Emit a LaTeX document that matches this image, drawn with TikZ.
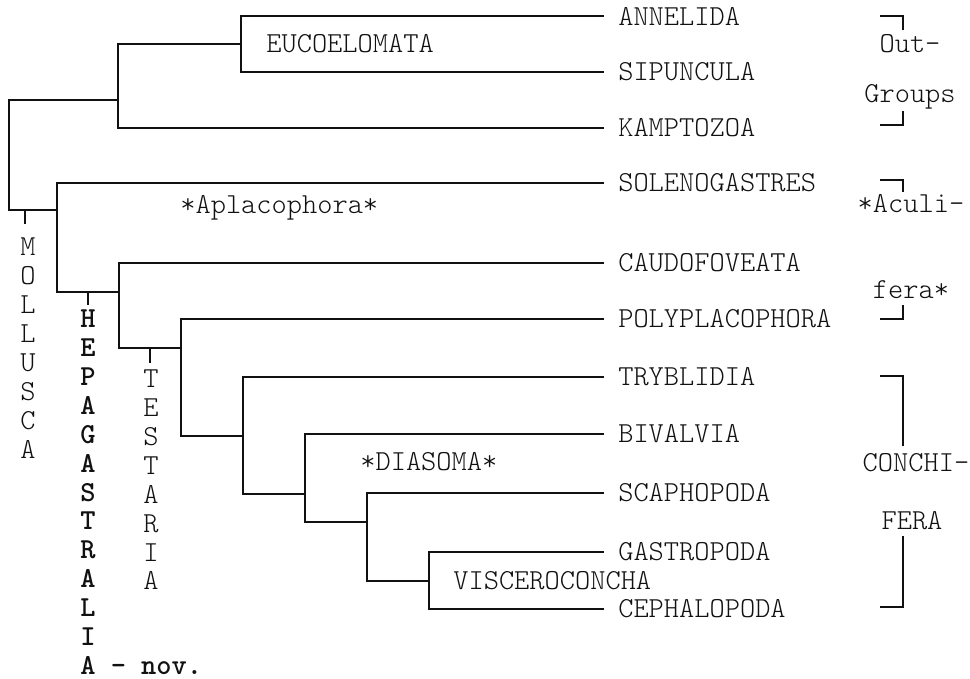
\documentclass[tikz,border=0pt]{standalone}
\usepackage{fontspec}
\usepackage{tikz}
\usetikzlibrary{positioning}
\usepackage{xcolor}
\definecolor{ink}{HTML}{111111}

\tikzset{
  branch/.style={ink, line width=0.9pt, line cap=rect},
  taxon/.style={anchor=west, inner xsep=8.5pt, inner ysep=0pt, ink,
    font=\ttfamily\fontseries{l}\fontsize{16.5}{18}\selectfont},
  cladename/.style={anchor=west, inner sep=0pt, ink,
    font=\ttfamily\fontseries{l}\fontsize{16.5}{18}\selectfont},
  column/.style={anchor=north west, inner sep=0pt, align=left, ink,
    font=\ttfamily\fontseries{l}\fontsize{16.5}{16.5}\selectfont},
  groupname/.style={inner sep=0pt, ink,
    font=\ttfamily\fontseries{l}\fontsize{16.5}{18}\selectfont}
}

\begin{document}
\begin{tikzpicture}[x=0.02cm, y=-0.02cm]
  \useasboundingbox (0,0) rectangle (970,679);

  % terminal taxa
  \node[taxon] (ann) at (603,16)  {ANNELIDA};
  \node[taxon] (sip) at (603,72)  {SIPUNCULA};
  \node[taxon] (kam) at (603,128) {KAMPTOZOA};
  \node[taxon] (sol) at (603,183) {SOLENOGASTRES};
  \node[taxon] (cau) at (603,263) {CAUDOFOVEATA};
  \node[taxon] (pol) at (603,319) {POLYPLACOPHORA};
  \node[taxon] (try) at (603,377) {TRYBLIDIA};
  \node[taxon] (biv) at (603,434) {BIVALVIA};
  \node[taxon] (sca) at (603,493) {SCAPHOPODA};
  \node[taxon] (gas) at (603,552) {GASTROPODA};
  \node[taxon] (cep) at (603,609) {CEPHALOPODA};

  % inner nodes
  \coordinate (eucoel) at (241,44);
  \coordinate (outgrp) at (118,100);
  \coordinate (root)   at (9,210);
  \coordinate (moll)   at (57,210);
  \coordinate (testa)  at (119,292);
  \coordinate (polcon) at (181,348);
  \coordinate (conch)  at (243,436);
  \coordinate (dias)   at (305,494);
  \coordinate (scavis) at (367,522);
  \coordinate (visc)   at (429,581);

  % branches
  \draw[branch] (ann.west) -| (eucoel) |- (sip.west);
  \draw[branch] (eucoel) -| (outgrp) |- (kam.west);
  \draw[branch] (outgrp) -| (root) -- (moll);
  \draw[branch] (sol.west) -| (moll) |- (testa);
  \draw[branch] (cau.west) -| (testa) |- (polcon);
  \draw[branch] (pol.west) -| (polcon) |- (conch);
  \draw[branch] (try.west) -| (conch) |- (dias);
  \draw[branch] (biv.west) -| (dias) |- (scavis);
  \draw[branch] (sca.west) -| (scavis) |- (visc);
  \draw[branch] (gas.west) -| (visc) |- (cep.west);

  % clade names
  \node[cladename] (eucname) at (266,44)  {EUCOELOMATA};
  \node[cladename] (aplname) at (180,208) {*Aplacophora*};
  \node[cladename] (dianame) at (360,462) {*DIASOMA*};
  \node[cladename] (visname) at (453,581) {VISCEROCONCHA};

  % vertical names with ticks
  \coordinate (molltick) at (25,210);
  \coordinate (hepatick) at (88,292);
  \coordinate (testtick) at (150,348);
  \draw[branch] (molltick) -- ++(0,13);
  \draw[branch] (hepatick) -- ++(0,12);
  \draw[branch] (testtick) -- ++(0,14);
  \node[column] (mollname) at (20,237) {M\\O\\L\\L\\U\\S\\C\\A};
  \node[column, font=\ttfamily\bfseries\fontsize{16.5}{16.5}\selectfont] (hepaname) at (80,309)
    {H\\E\\P\\A\\G\\A\\S\\T\\R\\A\\L\\I\\A - nov.};
  \node[column] (testname) at (143,369) {T\\E\\S\\T\\A\\R\\I\\A};

  % groups on the right
  \node[groupname] (outa)  at (910,44)  {Out-};
  \node[groupname] (outb)  at (910,97)  {Groups};
  \node[groupname] (acua)  at (911,204) {*Aculi-};
  \node[groupname] (acub)  at (911,290) {fera*};
  \node[groupname] (cona)  at (916,463) {CONCHI-};
  \node[groupname] (conb)  at (912,521) {FERA};

  \draw[branch] (881,16) -- (903,16) -- (903,29);
  \draw[branch] (903,112) -- (903,125) -- (881,125);
  \draw[branch] (881,180) -- (903,180) -- (903,191);
  \draw[branch] (903,306) -- (903,319) -- (881,319);
  \draw[branch] (881,376) -- (903,376) -- (903,445);
  \draw[branch] (903,537) -- (903,607) -- (881,607);
\end{tikzpicture}
\end{document}
